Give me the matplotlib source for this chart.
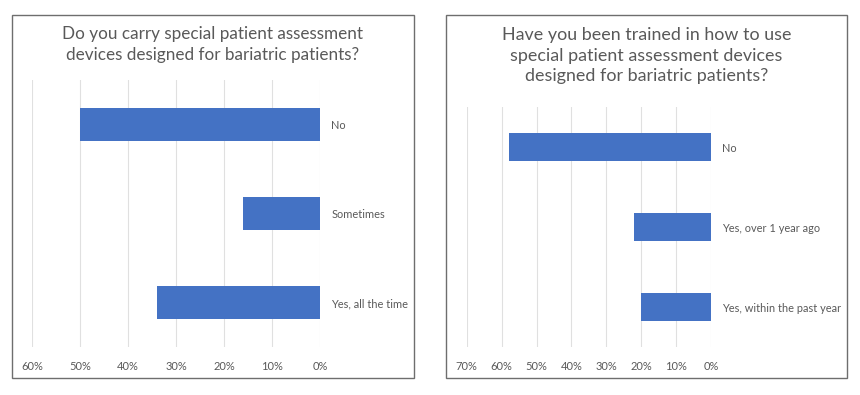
import matplotlib.pyplot as plt
from matplotlib.patches import Rectangle
from matplotlib.ticker import PercentFormatter

plt.rcParams['font.family'] = ['Lato', 'DejaVu Sans']

# left chart
left_title = "Do you carry special patient assessment\ndevices designed for bariatric patients?"
left_cats = ["No", "Sometimes", "Yes, all the time"]
left_vals = [0.50, 0.16, 0.34]
left_ticks = [0.6, 0.5, 0.4, 0.3, 0.2, 0.1, 0.0]

# right chart
right_title = "Have you been trained in how to use\nspecial patient assessment devices\ndesigned for bariatric patients?"
right_cats = ["No", "Yes, over 1 year ago", "Yes, within the past year"]
right_vals = [0.58, 0.22, 0.20]
right_ticks = [0.7, 0.6, 0.5, 0.4, 0.3, 0.2, 0.1, 0.0]

bar_color = "#4472C4"
text_color = "#595959"
W, H = 860, 395

fig = plt.figure(figsize=(8.6, 3.95), dpi=100)


def px(x0, y0, x1, y1):
    # pixel box (top-left origin) -> figure fraction rect
    return [x0 / W, 1 - y1 / H, (x1 - x0) / W, (y1 - y0) / H]


def draw(box, axbox, title, title_y, title_size, cats, vals, ticks, height):
    fig.patches.append(Rectangle((box[0], box[1]), box[2], box[3],
                                 transform=fig.transFigure, fill=False,
                                 edgecolor="#6e6e6e", linewidth=1.0))
    ax = fig.add_axes(axbox)
    y = list(range(len(cats)))
    ax.barh(y, vals, height=height, color=bar_color, zorder=3)
    ax.set_xlim(ticks[0], 0)
    ax.set_ylim(len(cats) - 0.5, -0.5)
    ax.set_xticks(ticks)
    ax.xaxis.set_major_formatter(PercentFormatter(1.0, decimals=0))
    ax.grid(axis="x", color="#e0e0e0", linewidth=0.8, zorder=0)
    ax.set_yticks(y)
    ax.set_yticklabels(cats)
    ax.yaxis.tick_right()
    ax.tick_params(axis="y", length=0, pad=8, labelsize=7.9, labelcolor=text_color)
    ax.tick_params(axis="x", length=0, pad=10, labelsize=8.0, labelcolor=text_color)
    for s in ax.spines.values():
        s.set_visible(False)
    cx = box[0] + box[2] / 2
    fig.text(cx, title_y, title, ha="center", va="top", fontsize=title_size,
             color=text_color, linespacing=1.36)
    return ax


draw(px(12, 15, 414, 378), px(32, 80, 320, 347), left_title, 1 - 26 / H, 12.3,
     left_cats, left_vals, left_ticks, 0.36)
draw(px(446, 15, 847, 378), px(466.7, 107, 711, 347), right_title, 1 - 27 / H, 12.9,
     right_cats, right_vals, right_ticks, 0.35)

fig.savefig("out.png", dpi=100, facecolor="white")
